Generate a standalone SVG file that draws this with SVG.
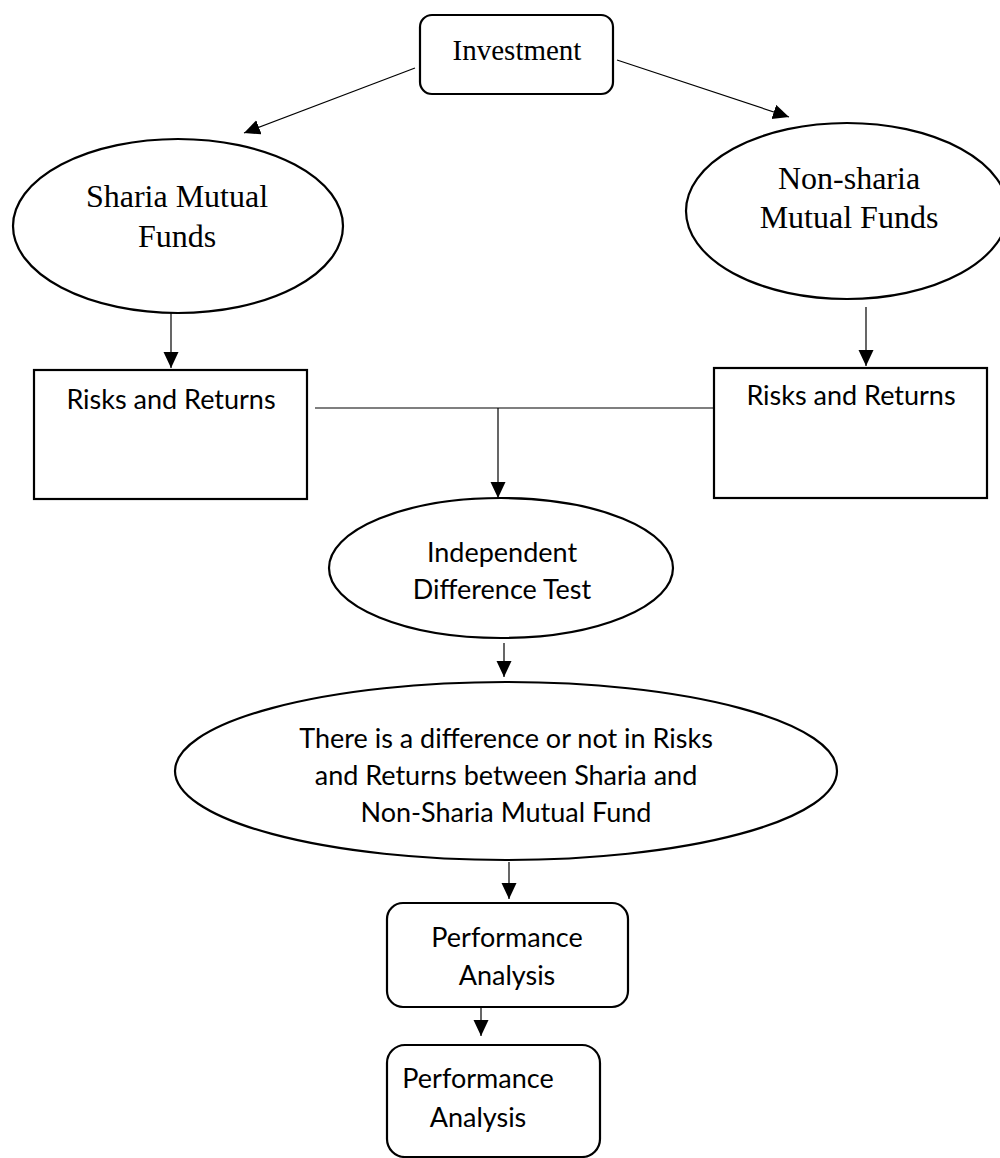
<svg xmlns="http://www.w3.org/2000/svg" width="1000" height="1158" viewBox="0 0 1000 1158">
<style>
.box{fill:#fff;stroke:#000;stroke-width:2.2}
.ser{font-family:"Liberation Serif",serif;font-size:32px;fill:#000;text-anchor:middle}
.inv{font-size:29px}
.san{font-family:Lato,"Liberation Sans",sans-serif;font-size:27px;fill:#000;text-anchor:middle}
.con{stroke:#000;stroke-width:1.2;fill:none}
</style>
<defs>
<marker id="ah" markerUnits="userSpaceOnUse" markerWidth="18" markerHeight="18" refX="16" refY="7.5" orient="auto">
<path d="M0,0 L16,7.5 L0,15 Z" fill="#000"/>
</marker>
</defs>
<rect width="1000" height="1158" fill="#fff"/>
<g id="connectors">
<line class="con" x1="415" y1="68" x2="244" y2="133" marker-end="url(#ah)"/>
<line class="con" x1="617" y1="60" x2="789" y2="117" marker-end="url(#ah)"/>
<line class="con" x1="171" y1="308" x2="171" y2="368" marker-end="url(#ah)"/>
<line class="con" x1="866" y1="307" x2="866" y2="366" marker-end="url(#ah)"/>
<line class="con" x1="315" y1="408" x2="713" y2="408"/>
<line class="con" x1="498" y1="408" x2="498" y2="498" marker-end="url(#ah)"/>
<line class="con" x1="504" y1="643" x2="504" y2="677" marker-end="url(#ah)"/>
<line class="con" x1="509" y1="862" x2="509" y2="899" marker-end="url(#ah)"/>
<line class="con" x1="481" y1="1007" x2="481" y2="1036" marker-end="url(#ah)"/>
</g>
<g id="investment">
<rect class="box" x="420" y="15" width="193" height="79" rx="12"/>
<text class="ser inv" x="517" y="60">Investment</text>
</g>
<g id="sharia">
<ellipse class="box" cx="178" cy="226" rx="165" ry="87"/>
<text class="ser" x="177" y="207">Sharia Mutual</text>
<text class="ser" x="177" y="247">Funds</text>
</g>
<g id="nonsharia">
<ellipse class="box" cx="847" cy="211" rx="161" ry="88"/>
<text class="ser" x="849" y="189">Non-sharia</text>
<text class="ser" x="849" y="228">Mutual Funds</text>
</g>
<g id="risks-left">
<rect class="box" x="34" y="370" width="273" height="129"/>
<text class="san" x="171" y="409">Risks and Returns</text>
</g>
<g id="risks-right">
<rect class="box" x="714" y="368" width="273" height="130"/>
<text class="san" x="851" y="405">Risks and Returns</text>
</g>
<g id="independent">
<ellipse class="box" cx="501" cy="568" rx="172" ry="70"/>
<text class="san" x="502" y="562">Independent</text>
<text class="san" x="502" y="599">Difference Test</text>
</g>
<g id="difference">
<ellipse class="box" cx="506" cy="771" rx="331" ry="89"/>
<text class="san" x="506" y="748">There is a difference or not in Risks</text>
<text class="san" x="506" y="785">and Returns between Sharia and</text>
<text class="san" x="506" y="822">Non-Sharia Mutual Fund</text>
</g>
<g id="performance1">
<rect class="box" x="387" y="903" width="241" height="104" rx="16"/>
<text class="san" x="507" y="947">Performance</text>
<text class="san" x="507" y="985">Analysis</text>
</g>
<g id="performance2">
<rect class="box" x="387" y="1045" width="213" height="112" rx="18"/>
<text class="san" x="478" y="1088">Performance</text>
<text class="san" x="478" y="1127">Analysis</text>
</g>
</svg>
